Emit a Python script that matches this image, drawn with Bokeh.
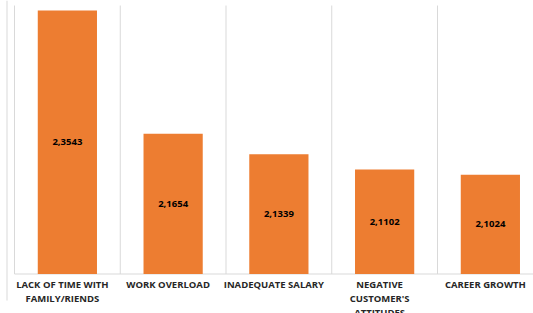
from bokeh.plotting import figure
from bokeh.models import Range1d, ColumnDataSource
from bokeh.core.properties import value
from bokeh.embed import file_html
from bokeh.resources import INLINE

# ---- data ----
categories = [
    "LACK OF TIME WITH\nFAMILY/RIENDS",
    "WORK OVERLOAD",
    "INADEQUATE SALARY",
    "NEGATIVE\nCUSTOMER'S\nATTITUDES",
    "CAREER GROWTH",
]
values = [2.3543, 2.1654, 2.1339, 2.1102, 2.1024]
axis_min = 1.95  # value-axis minimum of the original chart (bars start here)
category_bounds = [0, 1, 2, 3, 4, 5]

# ---- layout ----
W, H = 533, 313
X_START, X_END = -0.1324, 4.9078
Y_START, Y_END = 1.8894, 2.3697
GRID_TOP = 2.362
EDGE_X = -0.0709
EDGE_BOTTOM = 1.9093

centers = [i + 0.5 for i in range(len(values))]
value_labels = [f"{v:.4f}".replace(".", ",") for v in values]
mids = [(axis_min + v) / 2 for v in values]

src = ColumnDataSource(dict(x=centers, top=values, bottom=[axis_min] * len(values),
                            lab=value_labels, mid=mids, cat=categories,
                            base=[axis_min] * len(values)))

p = figure(width=W, height=H, output_backend="svg", toolbar_location=None,
           x_range=Range1d(X_START, X_END), y_range=Range1d(Y_START, Y_END),
           x_axis_type=None, y_axis_type=None, min_border=0,
           background_fill_color="white", border_fill_color="white")
p.outline_line_color = None
p.grid.visible = False

grid_col = "#d9d9d9"
# outer chart-area edge
p.segment(x0=[EDGE_X], x1=[EDGE_X], y0=[EDGE_BOTTOM], y1=[Y_END],
          line_color=grid_col, line_width=1)
# category separators
p.segment(x0=category_bounds, x1=category_bounds,
          y0=[axis_min] * len(category_bounds), y1=[GRID_TOP] * len(category_bounds),
          line_color=grid_col, line_width=1)
# baseline
p.segment(x0=[category_bounds[0]], x1=[category_bounds[-1]],
          y0=[axis_min], y1=[axis_min], line_color=grid_col, line_width=1)

p.vbar(x="x", top="top", bottom="bottom", width=0.56, source=src,
       fill_color="#ED7D31", line_color=None)

p.text(x="x", y="mid", text="lab", source=src, text_align="center",
       text_baseline="middle", text_font=value("Open Sans"),
       text_font_style="bold", text_font_size="9.5px", text_color="black")

p.text(x="x", y="base", text="cat", source=src, text_align="center",
       text_baseline="top", x_offset=-5, y_offset=3.5, text_font=value("Open Sans"),
       text_font_style="bold", text_font_size="9.5px", text_color="#262626",
       text_line_height=1.1)

open("out.html", "w").write(file_html(p, INLINE))
